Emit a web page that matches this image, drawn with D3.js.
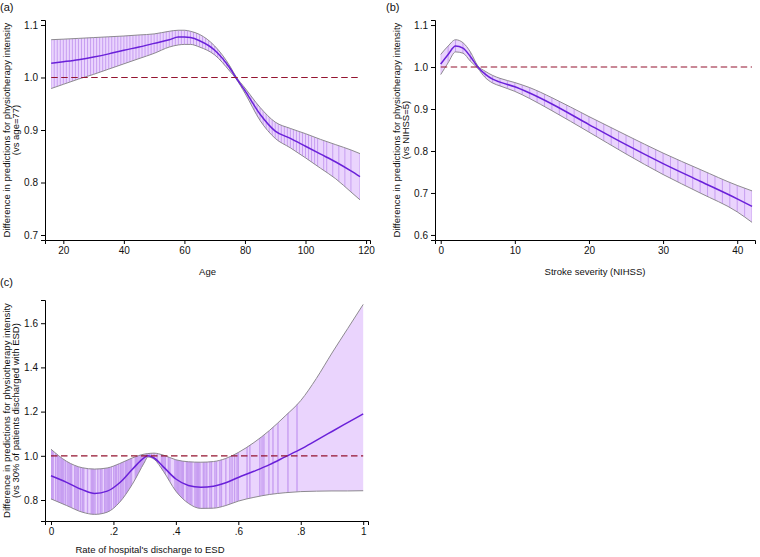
<!DOCTYPE html>
<html><head><meta charset="utf-8">
<script src="https://cdn.jsdelivr.net/npm/d3@7"></script>
<style>
body{margin:0;background:#fff;}
svg{display:block;font-family:"Liberation Sans",Arial,Helvetica,sans-serif;}
.axis text{font-size:10px;fill:#111;}
.axis path,.axis line{stroke:#000;stroke-width:1;}
</style></head>
<body>
<svg id="chart" width="760" height="557"></svg>
<script>
// ---------- Panel (a): Age ----------
const ageX     = [16,20,25,30,35,40,45,50,55,58,60,62,65,70,75,77,80,85,90,95,100,105,110,115,118];
const ageFit   = [1.027,1.030,1.034,1.039,1.045,1.052,1.058,1.065,1.072,1.077,1.077,1.076,1.070,1.052,1.018,1.000,0.975,0.930,0.898,0.884,0.869,0.854,0.839,0.822,0.811];
const ageUpper = [1.072,1.073,1.0745,1.076,1.0775,1.079,1.081,1.083,1.088,1.090,1.090,1.088,1.082,1.060,1.022,1.002,0.980,0.943,0.915,0.903,0.893,0.882,0.872,0.862,0.855];
const ageLower = [0.979,0.987,0.997,1.006,1.016,1.026,1.036,1.046,1.058,1.062,1.063,1.063,1.058,1.043,1.012,0.998,0.970,0.918,0.884,0.866,0.847,0.827,0.807,0.782,0.767];
const ageRug   = [16,17,18,19,20,21,22,23,24,25,26,27,28,29,30,31,32,33,34,35,36,37,38,39,40,41,42,43,44,45,46,47,48,49,50,51,52,53,54,55,56,57,58,59,60,61,62,63,64,65,66,67,68,69,70,71,72,73,74,75,76,77,78,79,80,81,82,83,84,85,86,87,88,89,90,91,92,93,94,95,96,97,98,99,100,101,102,103,104,106,107,109,111,113,115,118];
const ageTicksX = [20,40,60,80,100,120];
const ageTicksY = [0.7,0.8,0.9,1.0,1.1];

// ---------- Panel (b): NIHSS ----------
const nihX     = [0,1,2,3,4,5,6,7,8,10,12,15,20,25,30,35,40,42];
const nihFit   = [1.007,1.030,1.050,1.045,1.025,1.000,0.983,0.971,0.964,0.953,0.938,0.912,0.863,0.815,0.770,0.728,0.686,0.668];
const nihUpper = [1.030,1.050,1.065,1.058,1.036,1.003,0.990,0.980,0.973,0.963,0.951,0.927,0.882,0.838,0.795,0.756,0.718,0.705];
const nihLower = [0.982,1.010,1.036,1.033,1.014,0.997,0.975,0.962,0.955,0.942,0.925,0.896,0.845,0.793,0.744,0.700,0.655,0.630];
const nihRug   = [0,1,2,3,4,5,6,7,8,9,10,11,12,13,14,15,16,17,18,19,20,21,22,23,24,25,26,27,28,29,30,31,32,33,34,35,36,37,38,39,40,41,42];
const nihTicksX = [0,10,20,30,40];
const nihTicksY = [0.6,0.7,0.8,0.9,1.0,1.1];

// ---------- Panel (c): ESD rate ----------
const esdX     = [0,0.05,0.1,0.14,0.18,0.22,0.26,0.3,0.31,0.33,0.36,0.4,0.44,0.48,0.52,0.56,0.6,0.65,0.7,0.75,0.8,0.85,0.9,0.95,1.0];
const esdFit   = [0.910,0.880,0.847,0.830,0.840,0.878,0.938,0.993,1.000,0.990,0.950,0.895,0.866,0.858,0.862,0.878,0.902,0.930,0.960,0.995,1.030,1.070,1.110,1.150,1.190];
const esdUpper = [1.030,0.975,0.946,0.940,0.945,0.965,0.990,1.008,1.010,1.012,1.003,0.982,0.973,0.971,0.974,0.988,1.015,1.060,1.115,1.180,1.250,1.350,1.465,1.575,1.685];
const esdLower = [0.805,0.775,0.745,0.735,0.745,0.790,0.870,0.972,0.995,0.985,0.930,0.840,0.785,0.762,0.763,0.775,0.795,0.812,0.825,0.833,0.838,0.840,0.841,0.841,0.842];
const esdRug   = [0.001,0.004,0.007,0.015,0.021,0.025,0.029,0.033,0.037,0.041,0.047,0.054,0.058,0.062,0.066,0.076,0.080,0.084,0.088,0.095,0.101,0.105,0.117,0.129,0.133,0.137,0.141,0.150,0.158,0.163,0.172,0.176,0.180,0.184,0.188,0.193,0.201,0.206,0.210,0.216,0.222,0.227,0.231,0.238,0.242,0.246,0.250,0.254,0.258,0.270,0.274,0.278,0.282,0.286,0.290,0.294,0.298,0.305,0.310,0.316,0.322,0.330,0.340,0.354,0.358,0.362,0.366,0.376,0.381,0.397,0.401,0.405,0.409,0.413,0.417,0.421,0.424,0.434,0.438,0.442,0.446,0.451,0.461,0.465,0.469,0.473,0.477,0.488,0.493,0.499,0.509,0.514,0.525,0.530,0.541,0.546,0.560,0.573,0.580,0.588,0.596,0.600,0.628,0.637,0.669,0.676,0.682,0.698,0.711,0.727,0.759,0.788];
const esdTicksX = [0,0.2,0.4,0.6,0.8,1];
const esdTickLabelsX = ["0",".2",".4",".6",".8","1"];
const esdTicksY = [0.8,1.0,1.2,1.4,1.6];

const refValue = 1.0;

const svg = d3.select("#chart");
const C = {fill:"#ead4fd", rug:"#c79ef1", border:"#8d8a90", fit:"#6a21d9", ref:"#94132f"};

function panel(o){
  const g = svg.append("g");
  const x = d3.scaleLinear().domain(o.xDom).range([o.left,o.right]);
  const y = d3.scaleLinear().domain(o.yDom).range([o.bottom,o.top]);
  const pts = o.xs.map((v,i)=>({x:v, f:o.fit[i], u:o.upper[i], l:o.lower[i]}));
  const curve = d3.curveMonotoneX;
  const area = d3.area().x(d=>x(d.x)).y0(d=>y(d.l)).y1(d=>y(d.u)).curve(curve);
  const id = "clip"+o.name;
  svg.append("clipPath").attr("id",id).append("path").attr("d",area(pts));
  g.append("path").attr("d",area(pts)).attr("fill",C.fill);
  g.append("g").attr("clip-path",`url(#${id})`).selectAll("line").data(o.rug).join("line")
    .attr("x1",d=>x(d)).attr("x2",d=>x(d)).attr("y1",o.top).attr("y2",o.bottom)
    .attr("stroke",C.rug).attr("stroke-width",o.rugW);
  const lu = d3.line().x(d=>x(d.x)).y(d=>y(d.u)).curve(curve);
  const ll = d3.line().x(d=>x(d.x)).y(d=>y(d.l)).curve(curve);
  const lf = d3.line().x(d=>x(d.x)).y(d=>y(d.f)).curve(curve);
  g.append("path").attr("d",lu(pts)).attr("fill","none").attr("stroke",C.border).attr("stroke-width",1);
  g.append("path").attr("d",ll(pts)).attr("fill","none").attr("stroke",C.border).attr("stroke-width",1);
  g.append("path").attr("d",lf(pts)).attr("fill","none").attr("stroke",C.fit).attr("stroke-width",1.5);
  g.append("line").attr("x1",x(o.xs[0])).attr("x2",x(o.xs[o.xs.length-1]))
    .attr("y1",y(refValue)).attr("y2",y(refValue))
    .attr("stroke",C.ref).attr("stroke-width",1.2).attr("stroke-dasharray","6.5,3.5");
  // axes
  const ax = d3.axisBottom(x).tickValues(o.ticksX).tickSizeOuter(0).tickSize(4).tickPadding(3)
    .tickFormat((d,i)=>o.tickLabelsX ? o.tickLabelsX[i] : d3.format("d")(d));
  g.append("g").attr("class","axis").attr("transform",`translate(0,${o.bottom})`).call(ax);
  const ay = d3.axisLeft(y).tickValues(o.ticksY).tickSizeOuter(0).tickSize(4).tickPadding(3)
    .tickFormat(d3.format(".1f"));
  g.append("g").attr("class","axis").attr("transform",`translate(${o.left},0)`).call(ay);
  // titles
  g.append("text").attr("x",o.xTitleX).attr("y",o.bottom+o.xTitleDy).attr("text-anchor","middle")
    .attr("font-size","9.5px").attr("fill","#111").text(o.xTitle);
  const yc = (o.top+o.bottom)/2;
  o.yTitle.forEach((t,i)=>{
    g.append("text").attr("transform",`translate(${o.yTitleX + i*9.5},${yc}) rotate(-90)`)
      .attr("text-anchor","middle").attr("font-size","9.5px").attr("fill","#111").text(t);
  });
  g.append("text").attr("x",o.labX).attr("y",o.labY).attr("font-size","11px").attr("fill","#111").text(o.label);
}

panel({name:"a", xs:ageX, fit:ageFit, upper:ageUpper, lower:ageLower, rug:ageRug, rugW:1,
  xDom:[13.95,121.3], yDom:[0.6905,1.1095], left:45, right:370, top:20, bottom:240,
  ticksX:ageTicksX, ticksY:ageTicksY, xTitle:"Age", xTitleX:207.5, xTitleDy:35,
  yTitle:["Difference in predictions for physiotherapy intensity","(vs age=77)"], yTitleX:9.5,
  label:"(a)", labX:0, labY:11});

panel({name:"b", xs:nihX, fit:nihFit, upper:nihUpper, lower:nihLower, rug:nihRug, rugW:1,
  xDom:[-0.77,42.4], yDom:[0.588,1.112], left:435, right:755, top:20, bottom:240,
  ticksX:nihTicksX, ticksY:nihTicksY, xTitle:"Stroke severity (NIHSS)", xTitleX:595, xTitleDy:35,
  yTitle:["Difference in predictions for physiotherapy intensity","(vs NIHSS=5)"], yTitleX:399.5,
  label:"(b)", labX:386, labY:11});

panel({name:"c", xs:esdX, fit:esdFit, upper:esdUpper, lower:esdLower, rug:esdRug, rugW:1.4,
  xDom:[-0.0192,1.0154], yDom:[0.705,1.705], left:45, right:368, top:300, bottom:521,
  ticksX:esdTicksX, tickLabelsX:esdTickLabelsX, ticksY:esdTicksY,
  xTitle:"Rate of hospital's discharge to ESD", xTitleX:150, xTitleDy:32,
  yTitle:["Difference in predictions for physiotherapy intensity","(vs 30% of patients discharged with ESD)"], yTitleX:9.5,
  label:"(c)", labX:0, labY:286});
</script>
</body></html>
